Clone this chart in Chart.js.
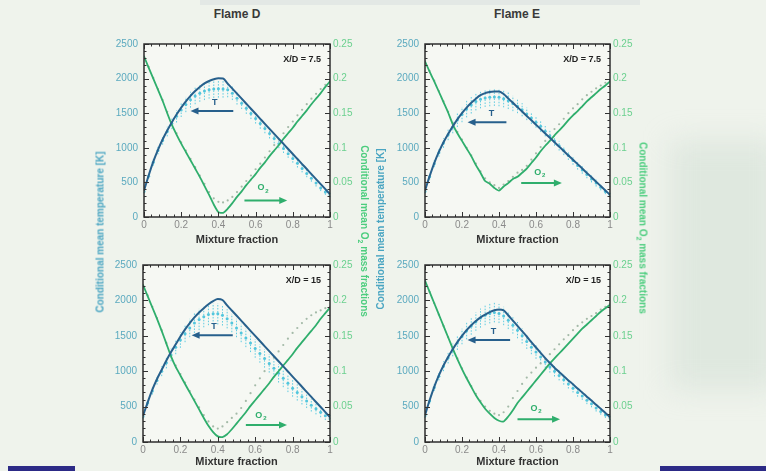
<!DOCTYPE html>
<html>
<head>
<meta charset="utf-8">
<script src="https://cdn.jsdelivr.net/npm/chart.js@4.4.1/dist/chart.umd.min.js"></script>
<style>
  html, body { margin: 0; padding: 0; }
  body { width: 766px; height: 471px; background: #eff3ec; position: relative; overflow: hidden;
         font-family: "Liberation Sans", Arial, sans-serif; }
  canvas { position: absolute; }
  .title { position: absolute; top: 7px; font-weight: bold; font-size: 12px; color: #3a3a3a; transform: translateX(-50%); }
  .vlab { position: absolute; font-weight: bold; font-size: 10px; white-space: nowrap; }
  .up { transform: translate(-50%, -50%) rotate(-90deg); }
  .down { transform: translate(-50%, -50%) rotate(90deg); }
  .blue { color: #4aa5c2; }
  .green { color: #4ccd7e; }
  .bar { position: absolute; background: #2c2a86; }
  .shade { position: absolute; background: rgba(196, 212, 200, 0.35); filter: blur(14px); }
</style>
</head>
<body>
<div style="position:absolute;left:200px;top:0;width:440px;height:5px;background:#e3e8e5"></div>
<div class="shade" style="left:670px;top:140px;width:110px;height:250px"></div>

<canvas id="p1" width="274" height="215" style="left:100px;top:32px"></canvas>
<canvas id="p2" width="273" height="215" style="left:381px;top:32px"></canvas>
<canvas id="p3" width="275" height="216" style="left:99px;top:253px"></canvas>
<canvas id="p4" width="273" height="216" style="left:381px;top:253px"></canvas>

<div class="title" style="left:237px">Flame D</div>
<div class="title" style="left:517px">Flame E</div>
<div class="vlab up blue" style="left:100px;top:232px">Conditional mean temperature [K]</div>
<div class="vlab down green" style="left:363px;top:231px">Conditional mean O<sub style="font-size:7px">2</sub> mass fractions</div>
<div class="vlab up blue" style="left:380px;top:229px">Conditional mean temperature [K]</div>
<div class="vlab down green" style="left:642px;top:228px">Conditional mean O<sub style="font-size:7px">2</sub> mass fractions</div>

<div class="bar" style="left:8px;top:466px;width:67px;height:5px"></div>
<div class="bar" style="left:660px;top:466px;width:106px;height:5px"></div>

<script>
// mixture fraction grid shared by all series
const mixFrac = [0, 0.025, 0.05, 0.075, 0.1, 0.125, 0.15, 0.175, 0.2, 0.225, 0.25, 0.275, 0.3, 0.325, 0.35, 0.375, 0.4, 0.425, 0.45, 0.475, 0.5,
                 0.525, 0.55, 0.575, 0.6, 0.625, 0.65, 0.675, 0.7, 0.725, 0.75, 0.775, 0.8, 0.825, 0.85, 0.875, 0.9, 0.925, 0.95, 0.975, 1];

const xTicks = [0, 0.2, 0.4, 0.6, 0.8, 1];
const tTicks = [0, 500, 1000, 1500, 2000, 2500];
const o2Ticks = [0, 0.05, 0.1, 0.15, 0.2, 0.25];

// Flame D, X/D = 7.5
const tModelD75 = [380,600,800,970,1120,1250,1370,1480,1580,1670,1750,1820,1880,1930,1965,1990,2005,2000,1927,1855,1782,1710,1637,1564,1492,1419,1346,1274,1201,1129,1056,983,911,838,765,693,620,548,475,403,330];
const tExpD75 = [370,590,790,960,1105,1235,1350,1455,1545,1625,1695,1750,1790,1820,1840,1850,1855,1850,1840,1790,1715,1645,1570,1495,1425,1350,1280,1205,1135,1060,990,915,845,775,700,630,560,490,420,360,320];
const tErrD75 = [30,40,50,55,60,70,80,90,100,110,115,120,125,130,130,130,130,125,110,100,90,85,80,80,75,75,70,70,70,65,65,60,60,60,55,55,50,50,45,40,35];
const o2ModelD75 = [0.232,0.216,0.2,0.184,0.168,0.15,0.133,0.119,0.106,0.094,0.082,0.07,0.058,0.045,0.032,0.018,0.007,0.006,0.012,0.02,0.029,0.037,0.046,0.054,0.062,0.071,0.079,0.088,0.096,0.104,0.113,0.121,0.129,0.138,0.146,0.154,0.163,0.171,0.179,0.188,0.196];
const o2ExpD75 = [0.232,0.217,0.201,0.185,0.169,0.152,0.135,0.121,0.108,0.096,0.084,0.072,0.06,0.048,0.036,0.027,0.022,0.021,0.024,0.029,0.036,0.044,0.052,0.06,0.069,0.077,0.086,0.095,0.104,0.112,0.121,0.13,0.138,0.147,0.155,0.163,0.171,0.178,0.185,0.191,0.196];

// Flame E, X/D = 7.5
const tModelE75 = [380,590,780,940,1080,1200,1310,1410,1500,1580,1650,1710,1760,1790,1805,1812,1815,1777,1714,1650,1587,1524,1460,1397,1334,1270,1207,1144,1080,1017,954,890,827,764,700,637,574,510,447,384,320];
const tExpE75 = [370,580,770,930,1070,1190,1300,1400,1480,1560,1620,1670,1700,1720,1730,1735,1730,1710,1680,1640,1600,1550,1490,1430,1370,1310,1240,1170,1100,1030,960,890,815,745,680,615,550,490,430,370,320];
const tErrE75 = [30,40,50,60,70,80,90,100,110,120,125,130,130,130,130,130,130,125,120,110,100,95,90,85,80,80,75,75,70,70,65,65,60,60,55,55,50,50,45,40,35];
const o2ModelE75 = [0.225,0.21,0.196,0.181,0.166,0.151,0.134,0.121,0.11,0.099,0.088,0.075,0.064,0.052,0.048,0.042,0.038,0.044,0.049,0.055,0.058,0.064,0.07,0.078,0.086,0.095,0.103,0.11,0.118,0.125,0.132,0.14,0.147,0.153,0.16,0.167,0.173,0.179,0.185,0.19,0.196];
const o2ExpE75 = [0.226,0.211,0.197,0.182,0.167,0.152,0.136,0.123,0.112,0.1,0.089,0.077,0.066,0.056,0.05,0.046,0.042,0.047,0.052,0.058,0.064,0.068,0.074,0.083,0.092,0.101,0.11,0.118,0.127,0.134,0.142,0.15,0.157,0.163,0.17,0.176,0.181,0.186,0.19,0.194,0.197];

// Flame D, X/D = 15
const tModelD15 = [370,560,740,890,1020,1150,1270,1380,1490,1590,1680,1760,1830,1890,1945,1990,2020,2005,1929,1857,1786,1714,1642,1570,1499,1427,1355,1283,1211,1140,1068,996,924,853,781,709,637,565,494,422,350];
const tExpD15 = [360,550,720,870,1000,1120,1230,1340,1440,1530,1610,1680,1730,1770,1800,1810,1810,1790,1740,1680,1610,1540,1470,1400,1320,1250,1180,1110,1040,970,900,830,760,700,640,580,520,470,420,370,330];
const tErrD15 = [30,40,50,60,70,80,90,100,110,120,130,140,150,150,150,150,150,145,135,130,130,130,130,130,130,130,130,130,130,130,125,125,120,115,110,100,90,80,70,60,50];
const o2ModelD15 = [0.222,0.206,0.19,0.174,0.157,0.139,0.121,0.106,0.094,0.082,0.07,0.058,0.046,0.034,0.023,0.014,0.008,0.007,0.011,0.018,0.026,0.034,0.042,0.051,0.059,0.067,0.075,0.083,0.092,0.1,0.108,0.116,0.124,0.133,0.141,0.149,0.157,0.165,0.174,0.182,0.19];
const o2ExpD15 = [0.222,0.207,0.191,0.175,0.158,0.14,0.123,0.108,0.096,0.084,0.072,0.06,0.049,0.038,0.029,0.022,0.019,0.022,0.028,0.034,0.04,0.048,0.058,0.069,0.08,0.09,0.1,0.11,0.119,0.128,0.137,0.146,0.154,0.161,0.168,0.174,0.179,0.183,0.186,0.189,0.191];

// Flame E, X/D = 15
const tModelE15 = [380,590,780,940,1080,1200,1310,1410,1500,1580,1650,1710,1760,1800,1835,1860,1870,1860,1790,1715,1640,1565,1490,1410,1335,1260,1185,1115,1050,990,930,870,815,755,700,640,585,525,470,410,350];
const tExpE15 = [370,580,770,930,1070,1190,1300,1400,1490,1570,1640,1700,1750,1790,1815,1830,1815,1780,1720,1650,1580,1500,1420,1340,1270,1200,1130,1060,1000,940,880,820,760,700,650,590,540,480,430,380,340];
const tErrE15 = [30,40,50,60,70,80,90,100,110,120,125,130,135,140,140,140,135,130,125,120,115,110,105,100,95,90,85,80,75,70,70,65,60,60,55,55,50,50,45,40,35];
const o2ModelE15 = [0.228,0.212,0.196,0.18,0.164,0.148,0.132,0.117,0.103,0.09,0.078,0.066,0.056,0.047,0.04,0.034,0.03,0.029,0.036,0.045,0.055,0.063,0.071,0.079,0.087,0.095,0.103,0.111,0.118,0.125,0.132,0.139,0.146,0.153,0.16,0.166,0.172,0.178,0.184,0.189,0.194];
const o2ExpE15 = [0.228,0.212,0.196,0.18,0.164,0.148,0.132,0.118,0.104,0.091,0.079,0.068,0.058,0.05,0.044,0.04,0.038,0.042,0.05,0.062,0.072,0.082,0.091,0.098,0.105,0.111,0.117,0.124,0.131,0.138,0.145,0.151,0.158,0.164,0.169,0.174,0.178,0.182,0.187,0.191,0.195];

// arrows: [start x, end x, y]; labels: [x, y] (data units)
const tArrowD75 = [0.48, 0.25, 1530], tLabelD75 = [0.38, 1650], o2ArrowD75 = [0.54, 0.77, 0.024], o2LabelD75 = [0.64, 0.042];
const tArrowE75 = [0.44, 0.23, 1370], tLabelE75 = [0.36, 1500], o2ArrowE75 = [0.52, 0.74, 0.049], o2LabelE75 = [0.62, 0.065];
const tArrowD15 = [0.48, 0.26, 1508], tLabelD15 = [0.38, 1634], o2ArrowD15 = [0.55, 0.77, 0.024], o2LabelD15 = [0.63, 0.038];
const tArrowE15 = [0.46, 0.23, 1439], tLabelE15 = [0.37, 1564], o2ArrowE15 = [0.5, 0.73, 0.032], o2LabelE15 = [0.6, 0.047];

const T_LINE = '#27608c', O2_LINE = '#2fae6c', T_EXP = '#52c6dd', O2_EXP = '#a4baa8';

function pts(ys) {
  return mixFrac.map(function (z, i) { return { x: z, y: ys[i] }; });
}

function arrow(ctx, x0, x1, y, color) {
  var dir = x1 > x0 ? 1 : -1;
  ctx.strokeStyle = color; ctx.fillStyle = color; ctx.lineWidth = 2;
  ctx.beginPath(); ctx.moveTo(x0, y); ctx.lineTo(x1 - dir * 6, y); ctx.stroke();
  ctx.beginPath(); ctx.moveTo(x1, y); ctx.lineTo(x1 - dir * 8, y - 3.5); ctx.lineTo(x1 - dir * 8, y + 3.5); ctx.closePath(); ctx.fill();
}

function makePanel(id, station, axisHeight, s) {
  var deco = {
    id: 'deco',
    beforeDraw: function (chart) {
      var a = chart.chartArea, ctx = chart.ctx;
      ctx.save();
      ctx.fillStyle = '#f6f8f3';
      ctx.fillRect(a.left, a.top, a.right - a.left, a.bottom - a.top);
      ctx.restore();
    },
    beforeDatasetsDraw: function (chart) {
      // error bars of the measured temperature
      var ctx = chart.ctx, x = chart.scales.x, y = chart.scales.yT;
      ctx.save();
      ctx.strokeStyle = 'rgba(70,196,222,0.85)';
      ctx.lineWidth = 1;
      ctx.setLineDash([1.5, 1.5]);
      mixFrac.forEach(function (z, i) {
        var px = x.getPixelForValue(z);
        ctx.beginPath();
        ctx.moveTo(px, y.getPixelForValue(s.tExp[i] - s.tErr[i]));
        ctx.lineTo(px, y.getPixelForValue(s.tExp[i] + s.tErr[i]));
        ctx.stroke();
      });
      ctx.restore();
    },
    afterDraw: function (chart) {
      var a = chart.chartArea, ctx = chart.ctx, x = chart.scales.x, yT = chart.scales.yT, yO = chart.scales.yO;
      ctx.save();
      // inward ticks on all four sides
      ctx.strokeStyle = '#333'; ctx.lineWidth = 1;
      ctx.beginPath();
      for (var k = 0; k <= 25; k++) {
        var len = k % 5 === 0 ? 5 : 2.5;
        var px = Math.round(x.getPixelForValue(k * 0.04)) + 0.5;
        ctx.moveTo(px, a.bottom); ctx.lineTo(px, a.bottom - len);
        ctx.moveTo(px, a.top); ctx.lineTo(px, a.top + len);
        var py = Math.round(yT.getPixelForValue(k * 100)) + 0.5;
        ctx.moveTo(a.left, py); ctx.lineTo(a.left + len, py);
        ctx.moveTo(a.right, py); ctx.lineTo(a.right - len, py);
      }
      ctx.stroke();
      ctx.lineWidth = 1.5; ctx.strokeStyle = '#2e2e2e';
      ctx.strokeRect(a.left, a.top, a.right - a.left, a.bottom - a.top);

      // station label
      ctx.fillStyle = '#222';
      ctx.font = 'bold 9px "Liberation Sans", Arial, sans-serif';
      ctx.textAlign = 'right'; ctx.textBaseline = 'middle';
      ctx.fillText(station, a.right - 9, a.top + 16);

      // T arrow (left axis) and O2 arrow (right axis)
      arrow(ctx, x.getPixelForValue(s.tArrow[0]), x.getPixelForValue(s.tArrow[1]), yT.getPixelForValue(s.tArrow[2]), T_LINE);
      arrow(ctx, x.getPixelForValue(s.o2Arrow[0]), x.getPixelForValue(s.o2Arrow[1]), yO.getPixelForValue(s.o2Arrow[2]), O2_LINE);
      ctx.textAlign = 'center';
      ctx.fillStyle = T_LINE;
      ctx.fillText('T', x.getPixelForValue(s.tLabel[0]), yT.getPixelForValue(s.tLabel[1]));
      var ox = x.getPixelForValue(s.o2Label[0]), oy = yO.getPixelForValue(s.o2Label[1]);
      ctx.fillStyle = O2_LINE;
      ctx.fillText('O', ox - 2, oy);
      ctx.font = 'bold 6px "Liberation Sans", Arial, sans-serif';
      ctx.fillText('2', ox + 4, oy + 3);
      ctx.restore();
    }
  };

  var tickFont = { family: '"Liberation Sans", Arial, sans-serif', size: 10 };

  return new Chart(document.getElementById(id), {
    type: 'line',
    data: {
      datasets: [
        { data: pts(s.tModel), yAxisID: 'yT', borderColor: T_LINE, borderWidth: 2, pointRadius: 0, cubicInterpolationMode: 'monotone' },
        { data: pts(s.o2Model), yAxisID: 'yO', borderColor: O2_LINE, borderWidth: 1.8, pointRadius: 0, tension: 0.2 },
        { data: pts(s.tExp), yAxisID: 'yT', showLine: false, pointRadius: 1.5, pointBorderWidth: 0, pointBackgroundColor: T_EXP },
        { data: pts(s.o2Exp), yAxisID: 'yO', showLine: false, pointRadius: 1.1, pointBorderWidth: 0, pointBackgroundColor: O2_EXP }
      ]
    },
    options: {
      responsive: false,
      animation: false,
      devicePixelRatio: 1,
      layout: { padding: { top: 10, left: 0, right: 0, bottom: 0 } },
      plugins: { legend: { display: false }, tooltip: { enabled: false } },
      scales: {
        x: {
          type: 'linear', min: 0, max: 1,
          afterBuildTicks: function (sc) { sc.ticks = xTicks.map(function (v) { return { value: v }; }); },
          afterFit: function (sc) { sc.height = axisHeight; },
          grid: { display: false, drawTicks: false }, border: { display: false },
          ticks: { color: '#8a8a8a', font: tickFont, padding: 2, maxRotation: 0, autoSkip: false,
                   callback: function (v) { return String(v); } },
          title: { display: true, text: 'Mixture fraction', color: '#333',
                   font: { family: '"Liberation Sans", Arial, sans-serif', size: 11, weight: 'bold' }, padding: { top: 0, bottom: 0 } }
        },
        yT: {
          type: 'linear', position: 'left', min: 0, max: 2500,
          afterBuildTicks: function (sc) { sc.ticks = tTicks.map(function (v) { return { value: v }; }); },
          afterFit: function (sc) { sc.width = 44; },
          grid: { display: false, drawTicks: false }, border: { display: false },
          ticks: { color: '#5aa9bf', font: tickFont, padding: 6, callback: function (v) { return String(v); } }
        },
        yO: {
          type: 'linear', position: 'right', min: 0, max: 0.25,
          afterBuildTicks: function (sc) { sc.ticks = o2Ticks.map(function (v) { return { value: v }; }); },
          afterFit: function (sc) { sc.width = 44; },
          grid: { display: false, drawTicks: false }, border: { display: false },
          ticks: { color: '#6bd08f', font: tickFont, padding: 3, callback: function (v) { return String(v); } }
        }
      }
    },
    plugins: [deco]
  });
}

makePanel('p1', 'X/D = 7.5', 30, { tModel: tModelD75, tExp: tExpD75, tErr: tErrD75, o2Model: o2ModelD75, o2Exp: o2ExpD75,
  tArrow: tArrowD75, tLabel: tLabelD75, o2Arrow: o2ArrowD75, o2Label: o2LabelD75 });
makePanel('p2', 'X/D = 7.5', 30, { tModel: tModelE75, tExp: tExpE75, tErr: tErrE75, o2Model: o2ModelE75, o2Exp: o2ExpE75,
  tArrow: tArrowE75, tLabel: tLabelE75, o2Arrow: o2ArrowE75, o2Label: o2LabelE75 });
makePanel('p3', 'X/D = 15', 27, { tModel: tModelD15, tExp: tExpD15, tErr: tErrD15, o2Model: o2ModelD15, o2Exp: o2ExpD15,
  tArrow: tArrowD15, tLabel: tLabelD15, o2Arrow: o2ArrowD15, o2Label: o2LabelD15 });
makePanel('p4', 'X/D = 15', 27, { tModel: tModelE15, tExp: tExpE15, tErr: tErrE15, o2Model: o2ModelE15, o2Exp: o2ExpE15,
  tArrow: tArrowE15, tLabel: tLabelE15, o2Arrow: o2ArrowE15, o2Label: o2LabelE15 });
</script>
</body>
</html>
